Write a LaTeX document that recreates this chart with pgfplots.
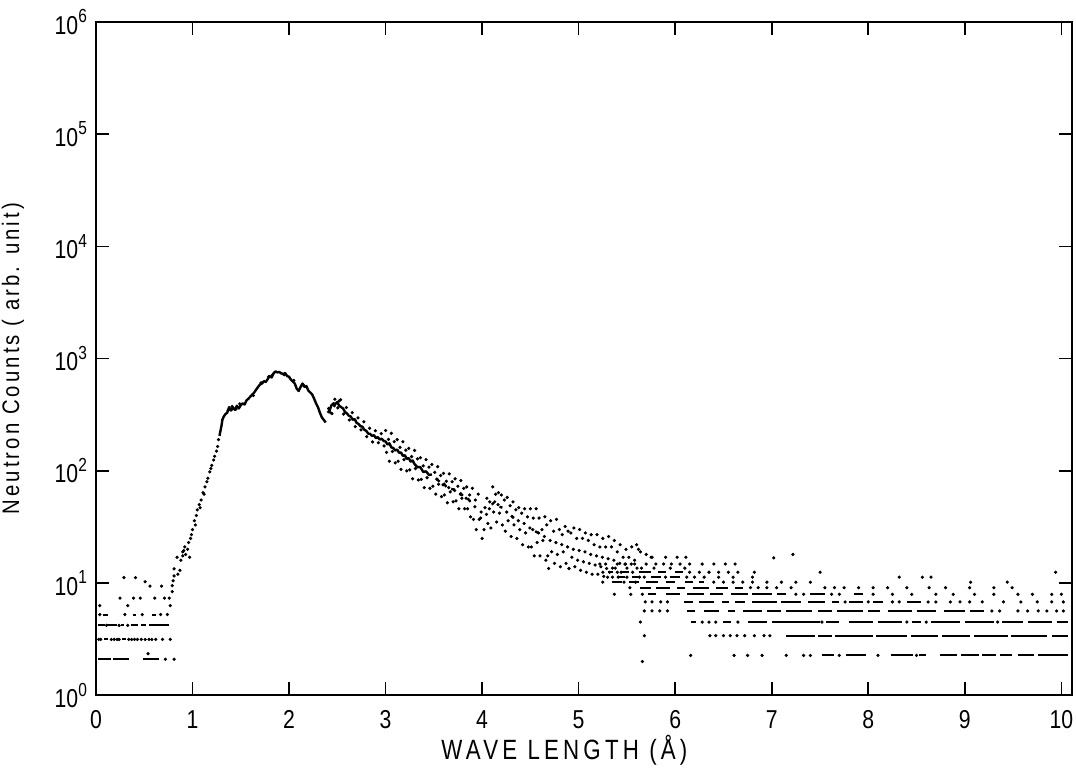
\documentclass[border=0pt]{standalone}
\usepackage{fontspec}
\setmainfont{Liberation Sans}
\newfontfamily\tickfont[FakeStretch=0.82]{Liberation Sans}
\newfontfamily\xlabfont[FakeStretch=0.8,LetterSpace=15]{Liberation Sans}
\newfontfamily\ylabfont[FakeStretch=0.85,LetterSpace=13]{Liberation Sans}
\usepackage{pgfplots}
\pgfplotsset{compat=1.18}

% decade label: 10 with raised exponent
\newcommand{\dec}[1]{10\raisebox{5.6bp}{\fontsize{9.5}{9.5}\selectfont #1}}

\begin{document}
\begin{tikzpicture}
\path[use as bounding box] (-48bp,-41bp) rectangle (490.5bp,348bp);
\begin{axis}[
  at={(0,0)}, anchor=south west,
  scale only axis, width=488.5bp, height=337bp,
  xmin=0, xmax=10.11,
  ymode=log, ymin=1, ymax=1e6,
  xtick={0,1,...,10},
  xticklabels={0,1,2,3,4,5,6,7,8,9,10},
  ytick={1,10,100,1000,10000,100000,1000000},
  yticklabels={\dec{0},\dec{1},\dec{2},\dec{3},\dec{4},\dec{5},\dec{6}},
  yminorticks=false,
  tick align=inside, tick pos=both,
  major tick length=6.5bp,
  every tick/.style={black, line width=0.8bp},
  axis line style={line width=1bp},
  tick label style={font=\tickfont\fontsize{13}{15}\selectfont},
  xticklabel style={yshift=-4bp},
  yticklabel style={xshift=-1bp},
  xlabel={WAVE LENGTH (Å)},
  xlabel style={font=\xlabfont\fontsize{14}{16}\selectfont,
    at={(axis description cs:0.48,-0.082)}, anchor=center},
  ylabel={Neutron Counts ( arb. unit)},
  ylabel style={font=\ylabfont\fontsize{12}{14}\selectfont,
    at={(axis description cs:-0.085,0.5)}, anchor=center},
  unbounded coords=jump,
]
% jagged main curve
\addplot[black, line width=1.2bp, line join=round, no marks] coordinates {
(1.28,205)(1.30,250)(1.31,285)(1.32,300)(1.34,320)(1.36,330)(1.38,370)(1.40,345)(1.42,365)(1.44,350)
(1.46,380)(1.48,360)(1.50,385)(1.52,400)(1.54,390)(1.56,425)(1.58,440)(1.60,460)(1.62,480)(1.64,500)
(1.66,530)(1.68,560)(1.70,590)(1.72,600)(1.74,630)(1.76,620)(1.78,660)(1.80,700)(1.82,680)(1.84,740)
(1.86,770)(1.88,755)(1.90,760)(1.92,740)(1.94,730)(1.96,745)(1.98,700)(2.00,690)(2.02,650)(2.04,625)
(2.06,600)(2.08,540)(2.10,515)(2.12,560)(2.14,600)(2.16,560)(2.18,570)(2.20,520)(2.22,500)(2.24,480)
(2.26,440)(2.28,400)(2.30,370)(2.32,330)(2.34,300)(2.36,285)(2.38,270)
(2.39,nan)
(2.40,330)(2.42,345)(2.44,385)(2.46,400)(2.48,395)(2.50,410)(2.52,380)(2.54,370)(2.56,360)(2.58,335)
(2.60,325)(2.62,310)(2.64,305)(2.66,285)(2.68,290)(2.70,268)(2.72,262)(2.74,250)(2.76,248)(2.78,232)
(2.80,228)(2.82,215)(2.84,214)(2.86,205)(2.88,208)(2.90,196)(2.92,200)(2.94,190)(2.96,194)(2.98,185)
(3.00,183)(3.02,172)(3.04,176)(3.06,162)(3.08,160)(3.10,152)(3.12,155)(3.14,145)(3.16,146)(3.18,136)
(3.20,138)(3.22,128)(3.24,130)(3.26,121)(3.28,124)(3.30,115)(3.33,108)(3.36,108)(3.39,98)(3.42,99)
(3.45,92)(3.48,93)
(3.50,nan)(3.52,86)(3.56,80)(3.58,nan)(3.60,78)(3.63,72)(3.65,nan)(3.68,69)(3.72,68)(3.74,nan)
(3.77,64)(3.80,60)(3.82,nan)(3.85,57)(3.88,53)(3.90,nan)(4.10,50)(4.14,54)(4.16,nan)(4.18,48)(4.21,47)
(4.25,nan)(4.30,40)(4.33,38)(4.40,nan)(4.55,29)(4.58,28)
};
% quantised rows (dashes)
\addplot[black, line width=1bp, no marks] coordinates {
(0.02,2.1)(0.16,2.1)(0,nan)(0.18,2.1)(0.34,2.1)(0,nan)(0.49,2.1)(0.65,2.1)(0,nan)
(0.08,3.15)(0.13,3.15)(0,nan)(0.27,3.15)(0.31,3.15)(0,nan)
(0.02,4.2)(0.09,4.2)(0,nan)(0.12,4.2)(0.22,4.2)(0,nan)(0.26,4.2)(0.29,4.2)(0,nan)(0.36,4.2)(0.44,4.2)(0,nan)
(0.47,4.2)(0.52,4.2)(0,nan)(0.55,4.2)(0.76,4.2)(0,nan)
(0.07,5.25)(0.13,5.25)(0,nan)(0.38,5.25)(0.42,5.25)(0,nan)(0.58,5.25)(0.62,5.25)(0,nan)
(7.52,2.27)(7.64,2.27)(0,nan)(7.77,2.27)(7.98,2.27)(0,nan)(8.24,2.27)(8.46,2.27)(0,nan)(8.53,2.27)(8.60,2.27)(0,nan)
(8.74,2.27)(8.92,2.27)(0,nan)(8.96,2.27)(9.15,2.27)(0,nan)(9.18,2.27)(9.32,2.27)(0,nan)(9.36,2.27)(9.49,2.27)(0,nan)
(9.55,2.27)(9.72,2.27)(0,nan)(9.76,2.27)(10.07,2.27)(0,nan)
(7.15,3.4)(7.45,3.4)(0,nan)(7.48,3.4)(7.62,3.4)(0,nan)(7.66,3.4)(8.05,3.4)(0,nan)(8.08,3.4)(8.40,3.4)(0,nan)
(8.44,3.4)(8.72,3.4)(0,nan)(8.76,3.4)(9.05,3.4)(0,nan)(9.10,3.4)(9.45,3.4)(0,nan)(9.48,3.4)(9.85,3.4)(0,nan)
(9.90,3.4)(10.07,3.4)(0,nan)
(6.16,4.5)(6.22,4.5)(0,nan)(6.50,4.5)(6.58,4.5)(0,nan)(6.75,4.5)(6.95,4.5)(0,nan)(7.00,4.5)(7.50,4.5)(0,nan)
(7.56,4.5)(7.70,4.5)(0,nan)(7.80,4.5)(8.05,4.5)(0,nan)(8.10,4.5)(8.35,4.5)(0,nan)(8.45,4.5)(8.55,4.5)(0,nan)
(8.65,4.5)(8.95,4.5)(0,nan)(9.00,4.5)(9.30,4.5)(0,nan)(9.38,4.5)(9.60,4.5)(0,nan)(9.65,4.5)(9.90,4.5)(0,nan)
(9.95,4.5)(10.07,4.5)(0,nan)
(6.12,5.65)(6.20,5.65)(0,nan)(6.30,5.65)(6.45,5.65)(0,nan)(6.55,5.65)(6.62,5.65)(0,nan)(6.70,5.65)(6.90,5.65)(0,nan)
(6.95,5.65)(7.10,5.65)(0,nan)(7.15,5.65)(7.42,5.65)(0,nan)(7.48,5.65)(7.62,5.65)(0,nan)(7.68,5.65)(7.95,5.65)(0,nan)
(8.00,5.65)(8.12,5.65)(0,nan)(8.20,5.65)(8.45,5.65)(0,nan)(8.50,5.65)(8.70,5.65)(0,nan)(8.78,5.65)(9.00,5.65)(0,nan)
(9.05,5.65)(9.20,5.65)(0,nan)
(6.09,6.8)(6.18,6.8)(0,nan)(6.25,6.8)(6.40,6.8)(0,nan)(6.48,6.8)(6.56,6.8)(0,nan)(6.62,6.8)(6.72,6.8)(0,nan)
(6.80,6.8)(7.05,6.8)(0,nan)(7.10,6.8)(7.30,6.8)(0,nan)(7.38,6.8)(7.55,6.8)(0,nan)(7.62,6.8)(7.70,6.8)(0,nan)
(7.80,6.8)(7.95,6.8)(0,nan)(8.05,6.8)(8.15,6.8)(0,nan)(8.40,6.8)(8.55,6.8)(0,nan)
(5.72,7.95)(5.80,7.95)(0,nan)(5.90,7.95)(6.05,7.95)(0,nan)(6.12,7.95)(6.30,7.95)(0,nan)(6.36,7.95)(6.50,7.95)(0,nan)
(6.58,7.95)(6.75,7.95)(0,nan)(6.80,7.95)(7.00,7.95)(0,nan)(7.05,7.95)(7.15,7.95)(0,nan)(7.40,7.95)(7.55,7.95)(0,nan)
(7.85,7.95)(7.95,7.95)(0,nan)
(5.64,9.1)(5.75,9.1)(0,nan)(5.80,9.1)(5.95,9.1)(0,nan)(6.02,9.1)(6.10,9.1)(0,nan)(6.18,9.1)(6.35,9.1)(0,nan)
(6.42,9.1)(6.55,9.1)(0,nan)(6.62,9.1)(6.70,9.1)(0,nan)
(5.35,10.2)(5.45,10.2)(0,nan)(5.52,10.2)(5.62,10.2)(0,nan)(5.70,10.2)(5.82,10.2)(0,nan)(5.90,10.2)(6.00,10.2)(0,nan)
(6.10,10.2)(6.18,10.2)(0,nan)(6.25,10.2)(6.30,10.2)(0,nan)
(5.40,11.3)(5.48,11.3)(0,nan)(5.55,11.3)(5.62,11.3)(0,nan)(5.75,11.3)(5.85,11.3)(0,nan)(5.95,11.3)(6.05,11.3)(0,nan)
(5.30,12.5)(5.36,12.5)(0,nan)(5.45,12.5)(5.52,12.5)(0,nan)(5.62,12.5)(5.75,12.5)(0,nan)(5.82,12.5)(5.90,12.5)(0,nan)
(6.00,12.5)(6.08,12.5)
};
% single counts
\addplot[only marks, mark=*, mark size=0.6bp, black] coordinates {
(0.72,2.1)(0.81,2.1)(0.54,2.35)
(0.03,3.15)(0.05,3.15)(0.16,3.15)(0.19,3.15)(0.22,3.15)(0.24,3.15)(0.34,3.15)(0.37,3.15)(0.40,3.15)(0.43,3.15)
(0.47,3.15)(0.51,3.15)(0.55,3.15)(0.58,3.15)(0.62,3.15)(0.69,3.15)(0.77,3.15)
(0.11,4.2)(0.24,4.2)(0.33,4.2)
(0.04,5.25)(0.30,5.25)(0.48,5.25)(0.67,5.25)(0.74,5.25)
(0.04,6.3)(0.33,6.3)(0.77,6.3)
(0.25,7.35)(0.39,7.35)(0.46,7.35)(0.61,7.35)(0.71,7.35)(0.76,7.35)
(0.56,9.4)(0.68,9.4)(0.51,10.3)(0.29,11.2)(0.41,11.2)
(0.79,8.4)(0.79,9.5)(0.80,10.5)(0.81,11.6)(0.81,13.4)(0.84,17)(0.85,12)(0.87,13)(0.88,16)(0.90,19)
(0.90,17.5)(0.91,19.5)(0.92,21)(0.93,18)(0.95,20)(0.96,23)(0.97,17)(0.98,25)(0.99,27)(1.00,30)
(1.02,36)(1.03,33)(1.04,40)(1.05,45)(1.07,50)(1.08,47)(1.09,55)(1.11,64)(1.12,62)(1.13,72)
(1.15,80)(1.16,86)(1.18,98)(1.19,105)(1.20,112)(1.22,125)(1.23,135)(1.25,150)(1.26,165)(1.27,190)
(1.37,345)(1.41,375)(1.45,355)(1.49,395)(1.63,470)(1.71,610)(1.79,690)(1.83,720)(1.95,720)(2.05,640)
(2.15,580)(2.41,360)(2.43,330)(2.47,380)(2.52,420)
(2.415,356)(2.445,324)(2.475,435)(2.505,365)(2.535,431)(2.565,321)(2.595,367)(2.625,284)(2.655,330)(2.685,248)
(2.715,297)(2.745,232)(2.775,274)(2.805,202)(2.835,240)(2.865,181)(2.895,228)(2.925,178)(2.955,215)(2.985,167)
(3.00,229)(3.01,146)(3.03,191)(3.04,122)(3.06,216)(3.07,149)(3.09,182)(3.10,118)(3.12,190)(3.13,122)
(3.15,162)(3.16,103)(3.18,182)(3.19,126)(3.21,153)(3.22,100)(3.24,159)(3.25,102)(3.27,134)(3.28,85)
(3.30,152)(3.31,105)(3.33,128)(3.34,83)(3.36,131)(3.37,84)(3.39,111)(3.40,71)(3.42,126)(3.43,87)
(3.45,108)(3.46,70)(3.48,114)(3.49,73)(3.51,97)(3.52,62)(3.54,109)(3.55,76)(3.57,91)(3.58,59)
(3.60,95)(3.61,61)(3.63,81)(3.64,52)(3.66,94)(3.67,65)(3.69,80)(3.70,53)(3.72,85)(3.73,54)
(3.75,73)(3.76,46)(3.78,82)(3.79,57)(3.81,70)(3.82,46)(3.84,72)(3.85,46)(3.87,61)(3.88,39)
(3.535,84)(3.595,75)(3.655,71)(3.715,67)(3.775,62)(3.835,57)
(3.90,70)(3.91,37)(3.93,55)(3.94,30)(3.96,62)(3.97,37)(3.99,43)(4.00,25)(4.02,30)(4.03,47)
(4.05,57)(4.06,34)(4.08,53)(4.09,31)(4.11,72)(4.12,43)(4.14,62)(4.15,35)(4.17,64)(4.18,42)
(4.20,61)(4.21,33)(4.23,55)(4.24,29)(4.26,58)(4.27,36)(4.29,49)(4.30,26)(4.32,53)(4.33,33)
(4.35,45)(4.36,25)(4.38,47)(4.39,30)(4.41,42)(4.42,22)(4.44,46)(4.45,28)(4.47,39)(4.48,21)
(3.925,48)(3.985,38)(4.045,41)(4.075,46)(4.165,50)(4.255,43)(4.315,39)(4.375,36)(4.435,34)(4.495,31)
(4.50,46)(4.51,21)(4.53,38)(4.54,17.5)(4.56,46)(4.57,23)(4.59,38)(4.60,17.5)(4.62,30)(4.63,24)
(4.65,39)(4.66,16)(4.68,17.5)(4.69,13.5)(4.67,33)(4.71,36)(4.72,19)(4.74,29)(4.75,15)(4.77,37)
(4.78,18)(4.80,30)(4.81,14)(4.83,27)(4.84,19)(4.86,32)(4.87,15)(4.89,29)(4.90,13.5)(4.92,28)
(4.93,17)(4.95,31)(4.96,14)(4.98,25)(4.99,16)(5.01,30)(5.02,13)(5.04,25)(5.05,15.5)(5.07,28)
(5.08,12.5)(5.10,24)(5.11,15)(5.13,27)(5.14,12)(5.16,22)(5.17,14.5)(5.19,27)(5.20,12)(5.22,21)
(5.23,14)(5.25,25)(5.26,11.5)(5.28,21)(5.29,13.5)(5.31,26)(5.32,12.5)(5.34,21)(5.35,11.3)(5.37,24)
(5.38,13.6)(5.40,19)(5.41,11.3)(5.43,22)(5.44,12.5)(5.46,17)(5.47,10.2)(5.49,20)(5.50,11.3)(5.52,17)
(5.53,9.1)(5.55,21)(5.56,12.5)(5.58,16)(5.59,10.2)(5.62,20)(5.63,11.3)(5.66,2.0)(5.68,3.4)
(4.525,30)(4.585,28)(4.645,26)(4.705,24)(4.765,23)(4.825,22)(4.885,21)(4.945,20)(5.005,19.5)(5.065,19)
(5.125,18)(5.185,17.5)(5.245,17)(5.305,16.5)(5.365,16)(5.425,15)(5.485,14.8)(5.545,14.8)(5.605,13.6)
(5.60,22)(5.64,19)(5.70,18)(5.76,17)
(6.16,2.27)(6.61,2.27)(6.75,2.27)(6.90,2.27)(7.15,2.27)(7.33,2.27)(7.40,2.27)(7.70,2.27)(8.10,2.27)(8.50,2.27)
(6.36,3.4)(6.42,3.4)(6.50,3.4)(6.57,3.4)(6.64,3.4)(6.72,3.4)(6.82,3.4)(6.92,3.4)(6.98,3.4)
(5.64,4.5)(6.28,4.5)(6.35,4.5)(6.42,4.5)(6.65,4.5)(7.52,4.5)(8.40,4.5)(8.60,4.5)(9.34,4.5)
(5.68,5.65)(5.76,5.65)(5.84,5.65)(5.92,5.65)(9.28,5.65)(9.36,5.65)(9.55,5.65)(9.65,5.65)(9.76,5.65)(9.85,5.65)
(9.95,5.65)(10.02,5.65)
(5.69,6.8)(5.76,6.8)(5.85,6.8)(5.92,6.8)(7.76,6.8)(8.00,6.8)(8.25,6.8)(8.32,6.8)(8.62,6.8)(8.70,6.8)
(8.85,6.8)(8.95,6.8)(9.05,6.8)(9.18,6.8)(9.40,6.8)(9.58,6.8)(9.75,6.8)(9.90,6.8)(10.02,6.8)
(5.37,7.95)(5.54,7.95)(5.66,7.95)(7.25,7.95)(7.33,7.95)(7.62,7.95)(7.70,7.95)(8.05,7.95)(8.25,7.95)(8.45,7.95)
(8.70,7.95)(8.88,7.95)(9.10,7.95)(9.30,7.95)(9.55,7.95)(9.70,7.95)(9.90,7.95)(10.00,7.95)
(6.78,9.1)(6.86,9.1)(6.95,9.1)(7.05,9.1)(7.20,9.1)(7.55,9.1)(7.65,9.1)(7.75,9.1)(7.90,9.1)(8.05,9.1)
(8.20,9.1)(8.40,9.1)(8.63,9.1)(8.80,9.1)(9.05,9.1)(9.30,9.1)(9.49,9.1)
(5.25,10.2)(6.40,10.2)(6.50,10.2)(6.60,10.2)(6.70,10.2)(6.80,10.2)(6.95,10.2)(7.10,10.2)(7.25,10.2)(7.40,10.2)
(9.06,10.2)(9.44,10.2)
(5.30,11.3)(5.68,11.3)(5.90,11.3)(6.12,11.3)(6.20,11.3)(6.30,11.3)(6.45,11.3)(6.60,11.3)(6.80,11.3)(8.32,11.3)
(8.56,11.3)(8.65,11.3)
(5.25,12.5)(5.40,12.5)(6.15,12.5)(6.25,12.5)(6.35,12.5)(6.45,12.5)(6.55,12.5)(6.65,12.5)(6.82,12.5)(7.50,12.5)
(9.94,12.5)
(5.35,13.6)(5.50,13.6)(5.65,13.6)(5.78,13.6)(5.95,13.6)(6.10,13.6)
(5.22,14.8)(5.28,14.8)(5.40,14.8)(5.48,14.8)(5.58,14.8)(5.70,14.8)(5.80,14.8)(5.88,14.8)(5.96,14.8)(6.05,14.8)
(6.15,14.8)(6.28,14.8)(6.40,14.8)(6.52,14.8)(6.62,14.8)
(5.75,17)(5.90,17)(6.02,17)(6.11,17)(7.02,16.8)(7.22,18)
};
\end{axis}
\end{tikzpicture}
\end{document}
